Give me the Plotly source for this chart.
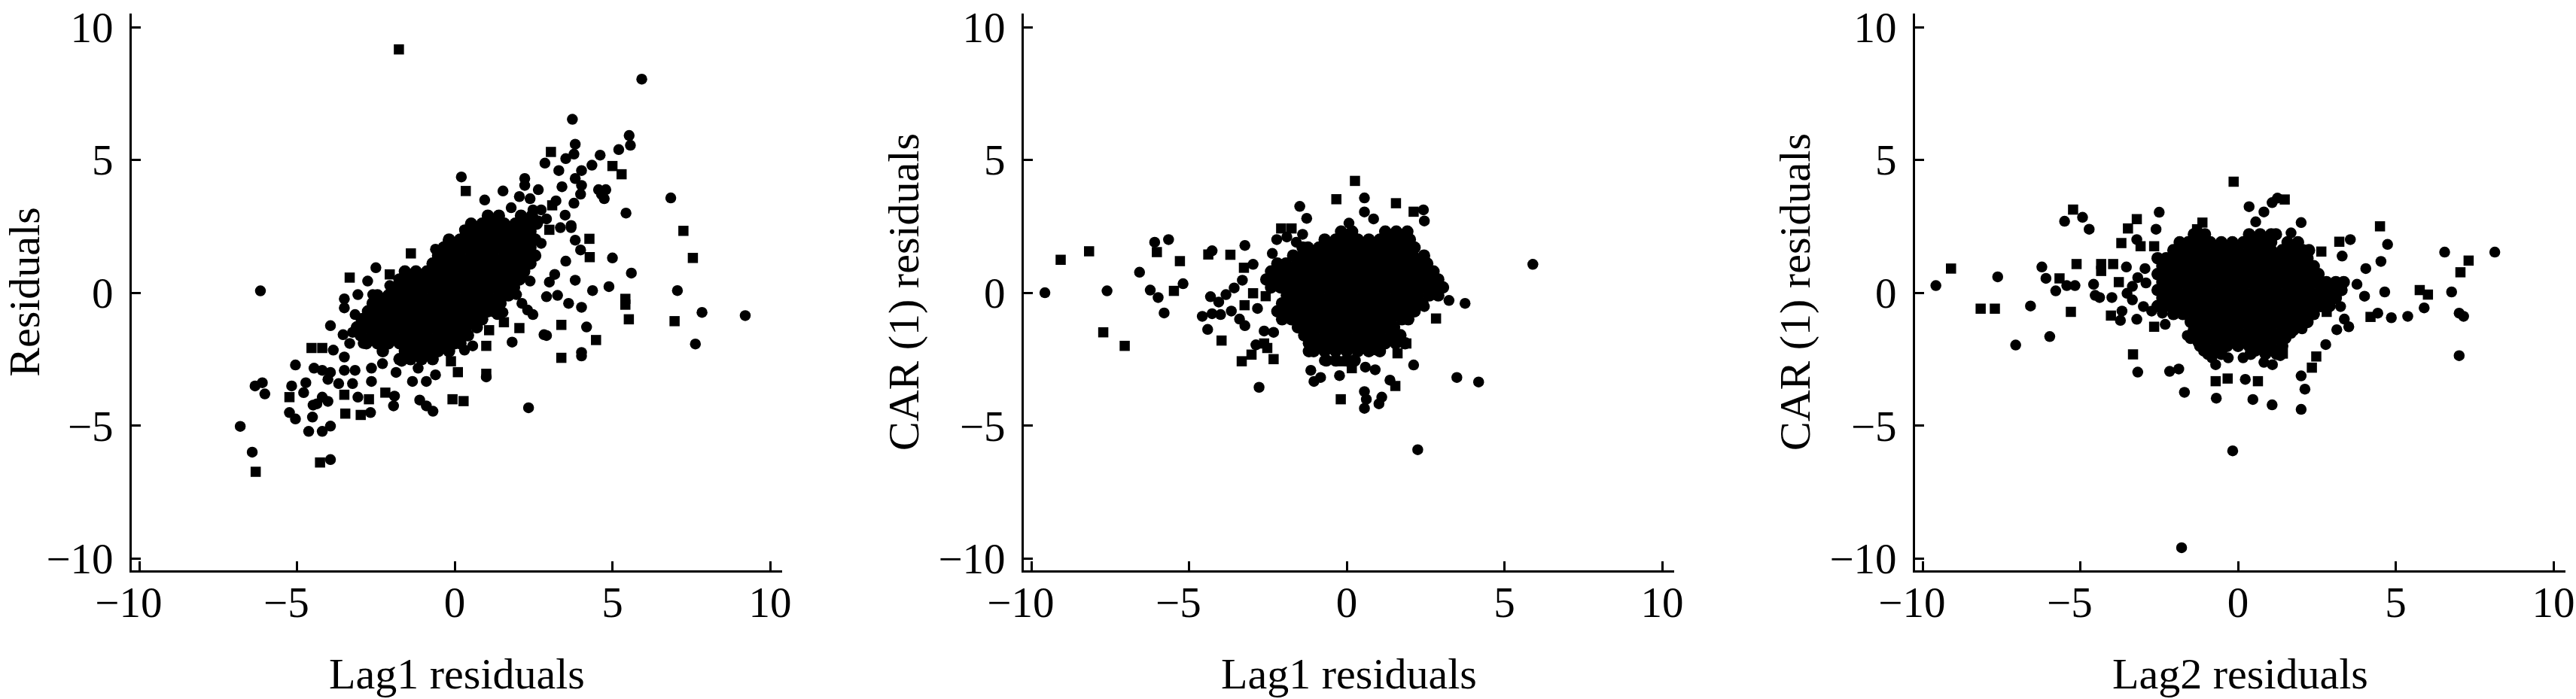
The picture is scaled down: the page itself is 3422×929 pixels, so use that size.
import plotly.graph_objects as go

tick_values = [-10, -5, 0, 5, 10]
x_tick_labels = ["\u221210\u2002", "\u22125\u2002", "0", "5", "10"]
y_tick_labels = ["\u221210", "\u22125", "0", "5", "10"]
x_titles = ["Lag1 residuals", "Lag1 residuals", "Lag2 residuals"]
y_titles = ["Residuals", "CAR (1) residuals", "CAR (1) residuals"]

# ---------- Panel 1: Lag1 residuals vs residuals ----------
p1_square = [(-1.77,9.16),(3.05,5.3),(5.0,4.77),(5.29,4.46),(3.09,3.29),(7.25,2.33),(7.55,1.31),(4.27,2.03),(4.28,1.34),
 (5.41,-.23),(5.41,-.45),(5.52,-1.0),(6.97,-1.07),(3.38,-1.21),(3.38,-2.45),(.28,-4.08),(-.07,-4.01),(1.0,-3.05),(.1,-2.99),
 (-6.31,-6.74),(-4.27,-6.39),(-5.24,-3.93),(.35,3.83),(3.0,2.37),(-4.54,-2.08),(-4.2,-2.08),(-3.33,.57),(-3.5,-3.84),(-2.98,-4.6),
 (-2.72,-4.01),(-3.47,-4.55),(2.05,-1.33),(1.09,-1.41),(1,-2),(1.56,-1.11),(-2.06,.69),(4.48,-1.78),(-2.2,-3.76),(-.12,-2.58),(-1.39,1.48)]
p1_circle = [(5.93,8.04),(3.73,6.53),(5.53,5.92),(5.57,5.55),(5.2,5.39),(3.82,5.59),(3.78,5.22),(3.52,5.05),(2.86,4.88),(4.61,5.18),
 (4.35,4.8),(4.02,4.6),(3.3,4.6),(3.82,4.3),(4.02,4.04),(3.4,3.99),(4.56,3.88),(4.79,3.88),(4.65,3.71),(4.74,3.54),(3.99,3.71),
 (3.78,3.37),(3.21,3.46),(6.85,3.57),(5.43,3.0),(5.6,.74),(5,1.31),(3.52,1.19),(3.99,1.61),(3.82,1.98),(3.69,2.53),(3.5,2.92),
 (3.82,.47),(3.17,.69),(3.0,.4),(4.37,.08),(4.89,.23),(7.06,.08),(7.84,-.74),(9.21,-.86),(7.63,-1.93),(4.02,-.55),(3.61,-.4),
 (3.26,-.1),(2.91,-.15),(4.18,-1.29),(2.91,-1.61),(2.83,-1.58),(4.02,-2.25),(4.02,-2.38),(2.34,-4.33),(1.0,-3.17),
 (-6.16,.07),(-6.8,-5.03),(-6.42,-6.0),(-3.94,-6.28),(-3.94,-5.02),(-4.63,-5.22),(-4.2,-5.22),(-5.17,-3.51),(-5.05,-2.72),
 (-6.33,-3.51),(-6.1,-3.39),(-6.02,-3.81),(-5.24,-4.51),(-5.05,-4.75),(-4.51,-4.68),(-4.49,-4.23),
 (2.22,4.3),(2.22,4.04),(2.65,3.88),(1.53,3.83),(.95,3.49),(.21,4.36),(1.79,3.2),(2.05,3.62),(2.39,3.54),(2.48,3.12),(2.74,3.12),
 (2.22,2.78),(2.65,2.7),(2.91,2.78),(3.35,2.45),(3.69,2.45),(2.74,1.86),(2.31,1.86),(2.48,1.36),(2.22,1.11),(2.13,.6),(2.39,.44),
 (1.96,-.07),(2.13,-.4),(2.31,-.65),(2.48,-.82),(1.53,-.74),(1.35,-.82),(1.82,-1.86),(.57,-2),(.31,-2.16),
 (-.61,1.64),(-.21,1.95),(.31,2.37),(-2.5,.94),(-2.76,.44),(-2.06,.27),(-1.6,.6),(-3.5,-.23),(-3.07,-.07),(-2.6,-.07),(-3.5,-.57),
 (-3.16,-.82),(-3.94,-1.24),(-3.54,-1.58),(-3.24,-1.49),(-2.9,-1.91),(-3.33,-1.91),(-3.85,-2.16),(-3.5,-2.42),(-4.46,-2.84),
 (-4.2,-2.92),(-3.94,-3),(-3.5,-2.92),(-3.16,-2.92),(-2.64,-2.84),(-2.29,-2.67),(-4.72,-3.39),(-4.02,-3.26),(-3.68,-3.42),
 (-3.24,-3.42),(-2.64,-3.34),(-1.86,-3),(-1.34,-3.34),(-.9,-3.34),(-.61,-3.09),(-1.16,-2.84),(-1.68,-2.58),(-4.79,-3.76),
 (-4.2,-3.93),(-4.02,-4.09),(-4.37,-4.18),(-3.07,-3.93),(-1.91,-3.89),(-1.94,-4.26),(-2.67,-4.51),(-1.11,-4.04),(-.9,-4.26),(-.69,-4.46)]
p1_dense_y = [2.9,2.6,2.3,2.0,1.7,1.4,1.1,.8,.5,.2,-.1,-.4,-.7,-1.0,-1.3,-1.6,-1.9,-2.2,-2.5]
p1_dense_x = [
 [1.05,1.4,2.1,2.45],
 [.52,.87,1.22,1.57,1.92,2.27,2.6],
 [.35,.7,1.05,1.4,1.75,2.1,2.4],
 [-.18,.17,.52,.87,1.22,1.57,1.92,2.27,2.55],
 [-.35,0,.35,.7,1.05,1.4,1.75,2.1,2.4],
 [-.53,-.18,.17,.52,.87,1.22,1.57,1.92,2.2,2.55],
 [-.7,-.35,0,.35,.7,1.05,1.4,1.75,2.1,2.4],
 [-1.58,-1.23,-.88,-.53,-.18,.17,.52,.87,1.22,1.57,1.92,2.2],
 [-1.75,-1.4,-1.05,-.7,-.35,0,.35,.7,1.05,1.4,1.75,2.05],
 [-1.93,-1.58,-1.23,-.88,-.53,-.18,.17,.52,.87,1.22,1.57,1.88],
 [-2.45,-2.1,-1.75,-1.4,-1.05,-.7,-.35,0,.35,.7,1.05,1.4,1.7],
 [-2.6,-2.28,-1.93,-1.58,-1.23,-.88,-.53,-.18,.17,.52,.87,1.22,1.45],
 [-2.75,-2.45,-2.1,-1.75,-1.4,-1.05,-.7,-.35,0,.35,.7,1.05,1.25],
 [-2.95,-2.63,-2.28,-1.93,-1.58,-1.23,-.88,-.53,-.18,.17,.52,.87],
 [-3.1,-2.8,-2.45,-2.1,-1.75,-1.4,-1.05,-.7,-.35,0,.35,.7],
 [-2.98,-2.63,-2.28,-1.93,-1.58,-1.23,-.88,-.53,-.18,.17,.42],
 [-2.8,-2.45,-2.1,-1.75,-1.4,-1.05,-.7,-.35,0,.18],
 [-2.28,-1.58,-1.23,-.88,-.53,-.18],
 [-1.75,-1.4,-1.05,-.7],
]

# ---------- Panel 2: Lag1 residuals vs CAR (1) residuals ----------
p2_square = [(-9.07,1.24),(-8.17,1.56),(-7.72,-1.49),(-7.04,-2.0),(-6.02,1.53),(-5.48,.07),(-5.29,1.19),(-4.39,1.44),(-3.69,1.43),
 (-3.26,.94),(-3.24,-.47),(-2.97,-.02),(-2.57,-.13),(-3.97,-1.8),(-3.33,-2.58),(-3.02,-2.33),(-2.62,-1.91),(-2.32,-2.5),(-2.52,-2.08),
 (-2.08,2.42),(-1.75,2.42),(-.33,3.52),(.26,4.21),(1.56,3.37),(2.12,3.05),(2.83,-.97),(1.61,-2.28),(-.19,-4.01),(1.54,-3.51),
 (.16,-2.84),(-.1,-2.58),(1.89,-1.91),(1.54,-1.66),(.94,-2.16)]
p2_circle = [(-9.57,0),(-7.6,.07),(-6.57,.77),(-6.23,.1),(-6.09,1.9),(-5.98,-.18),(-5.65,2),(-5.79,-.76),(-5.19,.34),(-4.27,1.58),
 (-3.23,1.78),(-2.97,1.07),(-3.31,.47),(-3.57,.18),(-3.83,-.07),(-4.06,-.35),(-4.32,-.15),(-2.83,-.59),(-4.58,-.89),(-4.27,-.79),
 (-4,-.82),(-3.66,-.69),(-3.4,-.99),(-3.23,-1.24),(-4.41,-1.38),(-2.88,-1.96),(-2.62,-1.44),(-2.32,-1.49),(-2.78,-3.56),(-2.36,1.48),
 (-2.22,2),(-1.49,3.25),(-1.27,2.8),(.56,3.57),(.56,3.04),(2.43,3.12),(2.46,2.7),(.85,2.78),(.07,2.62),(5.9,1.07),(3.24,-.29),
 (3.75,-.4),(2.46,-.52),(2.12,-2.72),(3.49,-3.19),(4.18,-3.36),(2.25,-5.91),(.56,-4.35),(.62,-4.01),(.56,-3.72),
 (1.02,-4.18),(1.11,-3.93),(1.37,-3.29),(-.23,-3.12),(-.83,-3.19),(-1.04,-3.34),(-1.14,-2.92),(.59,-2.8),(.9,-2.9),(-.71,-2.55),
 (-1.9,2.1),(-1.6,1.9),(-1.4,2.2)]
p2_dense_y = [2.3,2.0,1.7,1.4,1.1,.8,.5,.2,-.1,-.4,-.7,-1.0,-1.3,-1.6,-1.9,-2.2,-2.55]
p2_dense_x = [
 [-.18,.17,1.22,1.57,1.92],
 [-.7,-.35,0,.35,.7,1.05,1.4,1.75,2.0],
 [-1.4,-1.23,-.88,-.53,-.18,.17,.52,.87,1.22,1.57,1.92,2.15],
 [-1.7,-1.4,-1.05,-.7,-.35,0,.35,.7,1.05,1.4,1.75,2.1,2.45],
 [-2.2,-1.93,-1.58,-1.23,-.88,-.53,-.18,.17,.52,.87,1.22,1.57,1.92,2.27,2.55],
 [-2.4,-2.1,-1.75,-1.4,-1.05,-.7,-.35,0,.35,.7,1.05,1.4,1.75,2.1,2.45,2.75],
 [-2.55,-2.28,-1.93,-1.58,-1.23,-.88,-.53,-.18,.17,.52,.87,1.22,1.57,1.92,2.27,2.62,2.9],
 [-2.4,-2.1,-1.75,-1.4,-1.05,-.7,-.35,0,.35,.7,1.05,1.4,1.75,2.1,2.45,2.8,3.05],
 [-1.9,-1.58,-1.23,-.88,-.53,-.18,.17,.52,.87,1.22,1.57,1.92,2.27,2.62,2.9],
 [-2.05,-1.75,-1.4,-1.05,-.7,-.35,0,.35,.7,1.05,1.4,1.75,2.1,2.4],
 [-2.2,-1.93,-1.58,-1.23,-.88,-.53,-.18,.17,.52,.87,1.22,1.57,1.92,2.15],
 [-2.05,-1.75,-1.4,-1.05,-.7,-.35,0,.35,.7,1.05,1.4,1.75,1.95],
 [-1.55,-1.23,-.88,-.53,-.18,.17,.52,.87,1.22,1.5],
 [-1.35,-1.05,-.7,-.35,0,.35,.7,1.05,1.4,1.7],
 [-1.2,-.88,-.53,-.18,.17,.52,.87,1.22,1.55,1.85],
 [-1.2,-1.05,-.7,-.35,0,.35,.7,1.05],
 [-.65,-.35,0,.25],
]

# ---------- Panel 3: Lag2 residuals vs CAR (1) residuals ----------
p3_square = [(-9.1,.91),(-8.16,-.6),(-7.71,-.6),(-5.66,.54),(-5.23,3.13),(-5.12,1.08),(-5.3,-.72),(-4.34,1.08),(-4.34,.82),(-3.96,1.08),
 (-3.78,.4),(-4.03,-.86),(-3.33,-2.32),(-.71,-3.33),(-.33,-3.23),(.63,-3.33),(2.34,-2.82),(2.48,-2.4),(-.14,4.18),(1.48,3.51),
 (-3.21,2.77),(-3.49,2.42),(-3.7,1.87),(-2.66,1.75),(-3.09,1.75),(3.21,1.92),(4.5,2.5),(4.2,-.91),(5.76,.1),(6.02,-.07),(7.31,1.21),
 (7.05,.77),(2.81,-.72),(2.64,1.55),(1.42,-2.29),(-2.66,-1.28),(-1.13,2.64),(-1.3,2.39)]
p3_circle = [(-9.58,.27),(-7.62,.6),(-7.05,-1.97),(-6.58,-.5),(-6.22,.97),(-6.09,.54),(-5.97,-1.65),(-5.78,.07),(-5.43,.27),(-5.5,2.69),
 (-4.93,2.84),(-4.72,2.39),(-5.17,.27),(-4.58,.32),(-4.53,-.1),(-4.39,-.18),(-4,-.18),(-3.54,.97),(-3.68,-.69),(-3.73,-1.04),(-3.21,-1),
 (-3.18,-2.99),(-1.7,-3.75),(-1.79,-9.6),(-.17,-5.95),(-.69,-3.97),(-2.17,-2.96),(-1.88,-2.87),(.23,-3.26),(.47,-4.02),(1.08,-4.22),
 (2,-4.39),(2.12,-3.63),(2,-3.13),(2.78,-1.95),(1.09,-2.71),(1.34,-2.37),(.35,3.24),(1.08,3.39),(1.25,3.56),(.82,3.04),(.56,2.67),
 (2,2.64),(1.68,2.25),(-2.5,3.03),(-2.6,2.39),(-3.21,2),(3.56,2),(4.74,1.82),(3.3,1.38),(4.53,1.18),(4.05,.91),(3.77,.32),(4.01,-.13),
 (4.65,.03),(4.43,-.77),(4.86,-.94),(5.38,-.89),(5.9,-.57),(6.77,.03),(6.55,1.53),(8.14,1.53),(7.01,-.77),(7.15,-.89),(7.01,-2.37),
 (3.51,-1.28),(3.37,-.99),(3.13,-1.39),(3.25,-.52),(2.2,-1.03),(2.03,-1.36),(1.68,-1.53),
 (-2.31,-1.19),(-2.4,-.77),(-2.74,-.69),(-3,-.52),(-3.35,-.27),(-3.52,-.02),(-3.35,.24),(-3.18,.57),(-2.92,.37),(-2.95,.91),
 (-1.61,-1.61),(-1.27,-1.87),(-1.09,-2.2),(-.83,-2.45),(-.71,-2.71),
 (-.31,-2.45),(.16,-2.45),(.56,-2.2),(.82,-2.62)]
p3_dense_y = [2.2,1.9,1.6,1.3,1.0,.7,.4,.1,-.2,-.5,-.8,-1.1,-1.4,-1.7,-2.0,-2.3]
p3_dense_x = [
 [-1.4,-1.05,.35,.7,1.05,1.2],
 [-1.85,-1.58,-1.23,-.88,-.53,-.18,.17,.52,.87,1.05,1.57,1.9],
 [-2.05,-1.75,-1.4,-1.05,-.7,-.35,0,.35,.7,1.05,1.4,1.75,2.05,2.25],
 [-2.55,-2.28,-1.93,-1.58,-1.23,-.88,-.53,-.18,.17,.52,.87,1.22,1.57,1.92,2.2],
 [-2.4,-2.1,-1.75,-1.4,-1.05,-.7,-.35,0,.35,.7,1.05,1.4,1.75,2.1,2.4],
 [-2.55,-2.28,-1.93,-1.58,-1.23,-.88,-.53,-.18,.17,.52,.87,1.22,1.57,1.92,2.27,2.55],
 [-2.4,-2.1,-1.75,-1.4,-1.05,-.7,-.35,0,.35,.7,1.05,1.4,1.75,2.1,2.45,2.8,3.1,3.35],
 [-2.55,-2.28,-1.93,-1.58,-1.23,-.88,-.53,-.18,.17,.52,.87,1.22,1.57,1.92,2.27,2.62,2.97,3.28],
 [-2.4,-2.1,-1.75,-1.4,-1.05,-.7,-.35,0,.35,.7,1.05,1.4,1.75,2.1,2.45,2.8,3.1],
 [-2.55,-2.28,-1.93,-1.58,-1.23,-.88,-.53,-.18,.17,.52,.87,1.22,1.57,1.92,2.27,2.62,2.9],
 [-2.05,-1.75,-1.4,-1.05,-.7,-.35,0,.35,.7,1.05,1.4,1.75,2.1,2.4],
 [-1.5,-1.23,-.88,-.53,-.18,.17,.52,.87,1.22,1.57,1.92,2.2],
 [-1.4,-1.05,-.7,-.35,0,.35,.7,1.05,1.4,1.75],
 [-1.5,-1.23,-.88,-.53,-.18,.17,.52,.87,1.22,1.5],
 [-1.2,-1.05,-.7,-.35,0,.35,.7,1.05,1.4],
 [-.95,-.88,-.53,.4,.87,1.22],
]

def dense_points(row_y, row_x):
    return [(x, y) for y, xs in zip(row_y, row_x) for x in xs]

panels = [
    (p1_circle, p1_square, dense_points(p1_dense_y, p1_dense_x)),
    (p2_circle, p2_square, dense_points(p2_dense_y, p2_dense_x)),
    (p3_circle, p3_square, dense_points(p3_dense_y, p3_dense_x)),
]

W, H = 3422, 929
x_domains = [(175, 1039), (1360, 2224), (2544, 3408)]
y_domain = (18, 758)
FONT = "Liberation Serif"
styles = [("circle", 14.5), ("square", 13.5), ("circle", 16.5)]

fig = go.Figure()
for i, (groups, (x0, x1)) in enumerate(zip(panels, x_domains), start=1):
    xa, ya = f"x{i}", f"y{i}"
    for pts, (symbol, size) in zip(groups, styles):
        fig.add_trace(go.Scatter(x=[p[0] for p in pts], y=[p[1] for p in pts], mode="markers", xaxis=xa, yaxis=ya,
                                 marker=dict(symbol=symbol, size=size, color="black", line_width=0), showlegend=False))
    common = dict(tickmode="array", tickvals=tick_values, ticks="inside", ticklen=12, tickwidth=3, tickcolor="black",
                  showline=True, linecolor="black", linewidth=3, showgrid=False, zeroline=False, mirror=False,
                  tickfont=dict(family=FONT, size=57, color="black"), automargin=False)
    fig.update_layout({
        f"xaxis{i}": dict(common, ticktext=x_tick_labels, domain=[x0 / W, x1 / W], range=[-10.24, 10.38], anchor=ya,
                          ticklabelstandoff=-9,
                          title=dict(text=x_titles[i - 1], font=dict(family=FONT, size=58, color="black"), standoff=43)),
        f"yaxis{i}": dict(common, ticktext=y_tick_labels, domain=[1 - y_domain[1] / H, 1 - y_domain[0] / H], range=[-10.45, 10.51], anchor=xa,
                          ticklabelstandoff=10,
                          title=dict(text=y_titles[i - 1], font=dict(family=FONT, size=58, color="black"), standoff=8)),
    })

fig.update_layout(width=W, height=H, autosize=False, margin=dict(l=0, r=0, t=0, b=0),
                  paper_bgcolor="white", plot_bgcolor="white", showlegend=False, hovermode=False)
fig.write_html("out.html", config=dict(displayModeBar=False),
               post_script="document.body.style.margin='0';document.body.style.overflow='hidden';")
